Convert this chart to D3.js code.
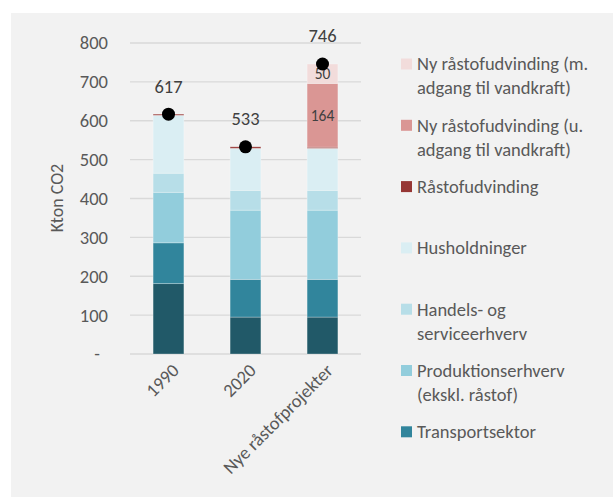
<!DOCTYPE html>
<html>
<head>
<meta charset="utf-8">
<script src="https://cdn.jsdelivr.net/npm/d3@7"></script>
<style>
  body { margin: 0; background: #fff; }
  text { font-family: Calibri, Carlito, "Open Sans", sans-serif; }
</style>
</head>
<body>
<div id="chart"></div>
<script>
// data
var categories = ["1990", "2020", "Nye råstofprojekter"];
var seriesNames = ["Energisektor", "Transportsektor", "Produktionserhverv (ekskl. råstof)",
  "Handels- og serviceerhverv", "Husholdninger", "Råstofudvinding",
  "Ny råstofudvinding (u. adgang til vandkraft)", "Ny råstofudvinding (m. adgang til vandkraft)"];
var energi       = [181, 95, 95];
var transport    = [105, 97, 97];
var produktion   = [130, 178, 178];
var handels      = [49, 51, 51];
var husholdning  = [149, 108, 108];
var raastof      = [3, 4, 3];
var nyUden       = [0, 0, 164];
var nyMed        = [0, 0, 50];
var totals       = [617, 533, 746];
var yTicks = [0, 100, 200, 300, 400, 500, 600, 700, 800];

var legendItems = [
  {i: 7, lines: ["Ny råstofudvinding (m.", "adgang til vandkraft)"]},
  {i: 6, lines: ["Ny råstofudvinding (u.", "adgang til vandkraft)"]},
  {i: 5, lines: ["Råstofudvinding"]},
  {i: 4, lines: ["Husholdninger"]},
  {i: 3, lines: ["Handels- og", "serviceerhverv"]},
  {i: 2, lines: ["Produktionserhverv", "(ekskl. råstof)"]},
  {i: 1, lines: ["Transportsektor"]}
];

var colors = ["#215968", "#31859c", "#92cddc", "#b7dee8", "#daeef3", "#963634", "#da9694", "#f2dcdb"];

var allSeries = [energi, transport, produktion, handels, husholdning, raastof, nyUden, nyMed];
var rows = categories.map(function(c, j) {
  var r = {cat: c, total: totals[j]};
  seriesNames.forEach(function(n, k) { r[n] = allSeries[k][j]; });
  return r;
});

var W = 613, H = 497;
var svg = d3.select("#chart").append("svg")
  .attr("width", W).attr("height", H);

svg.append("rect").attr("x", 11).attr("y", 13)
  .attr("width", W - 11).attr("height", H - 13).attr("fill", "#f2f2f2");

var x = d3.scaleBand().domain(categories).range([130, 361]).paddingInner(0.6).paddingOuter(0.3);
var y = d3.scaleLinear().domain([0, 800]).range([354, 43]);

// gridlines
svg.append("g").selectAll("line").data(yTicks).enter().append("line")
  .attr("x1", 130).attr("x2", 361)
  .attr("y1", function(d) { return y(d); }).attr("y2", function(d) { return y(d); })
  .attr("stroke", "#d9d9d9").attr("stroke-width", 1.3);

// y axis
var yAxis = d3.axisLeft(y).tickValues(yTicks).tickSize(0).tickPadding(0)
  .tickFormat(function(d) { return d === 0 ? "-" : d; });
var ya = svg.append("g").attr("transform", "translate(108,0)").call(yAxis);
ya.select(".domain").remove();
ya.selectAll("text").attr("font-size", "18.5px").attr("fill", "#595959")
  .attr("dx", function(d) { return d === 0 ? "-8px" : 0; });

svg.append("text")
  .attr("transform", "translate(63,198) rotate(-90)")
  .attr("text-anchor", "middle").attr("font-size", "18px").attr("fill", "#595959")
  .text("Kton CO2");

// x axis
var xAxis = d3.axisBottom(x).tickSize(0).tickPadding(0);
var xa = svg.append("g").attr("transform", "translate(0,354)").call(xAxis);
xa.select(".domain").remove();
xa.selectAll("text")
  .attr("font-size", "18.5px").attr("fill", "#595959")
  .attr("text-anchor", "end")
  .attr("transform", "translate(7,13) rotate(-45)")
  .attr("y", 0).attr("dy", "0.35em");

// stacked bars
var stack = d3.stack().keys(seriesNames)(rows);
var layers = svg.append("g").selectAll("g").data(stack).enter().append("g")
  .attr("fill", function(d, k) { return colors[k]; });
layers.selectAll("rect").data(function(d) { return d; }).enter().append("rect")
  .filter(function(d) { return d[1] - d[0] > 0; })
  .attr("x", function(d) { return x(d.data.cat); })
  .attr("width", x.bandwidth())
  .attr("y", function(d) { return y(d[1]); })
  .attr("height", function(d) { return y(d[0]) - y(d[1]); })
  .attr("stroke", "#ffffff").attr("stroke-opacity", 0.35).attr("stroke-width", 0.8);

// segment labels for new projects
var labelled = [6, 7];
labelled.forEach(function(k) {
  svg.append("g").selectAll("text").data(stack[k].filter(function(d) { return d[1] - d[0] > 0; }))
    .enter().append("text")
    .attr("x", function(d) { return x(d.data.cat) + x.bandwidth() / 2; })
    .attr("y", function(d) { return y((d[0] + d[1]) / 2); })
    .attr("dy", "0.35em")
    .attr("text-anchor", "middle").attr("font-size", "15.5px").attr("fill", "#404040")
    .text(function(d) { return d[1] - d[0]; });
});

// totals
svg.append("g").selectAll("circle").data(rows).enter().append("circle")
  .attr("cx", function(d) { return x(d.cat) + x.bandwidth() / 2; })
  .attr("cy", function(d) { return y(d.total); })
  .attr("r", 6.5).attr("fill", "#000");
svg.append("g").selectAll("text").data(rows).enter().append("text")
  .attr("x", function(d) { return x(d.cat) + x.bandwidth() / 2; })
  .attr("y", function(d) { return y(d.total) - 28; })
  .attr("dy", "0.35em")
  .attr("text-anchor", "middle").attr("font-size", "18.5px").attr("fill", "#404040")
  .text(function(d) { return d.total; });

// legend
var lg = svg.append("g").selectAll("g").data(legendItems).enter().append("g")
  .attr("transform", function(d, k) { return "translate(401," + (64 + k * 61.3) + ")"; });
lg.append("rect").attr("x", 0).attr("y", -5.5).attr("width", 11).attr("height", 11)
  .attr("fill", function(d) { return colors[d.i]; });
lg.each(function(d) {
  var g = d3.select(this);
  d.lines.forEach(function(l, n) {
    g.append("text").attr("x", 16).attr("y", n * 24).attr("dy", "0.35em")
      .attr("font-size", "18.5px").attr("fill", "#595959").text(l);
  });
});
</script>
</body>
</html>
